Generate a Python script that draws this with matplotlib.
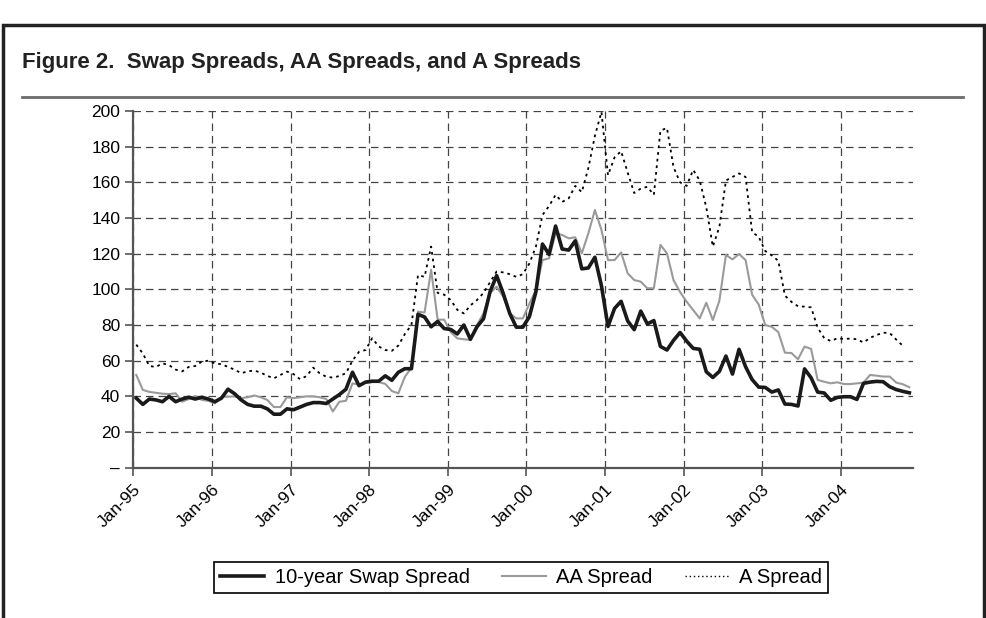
import numpy as np
import matplotlib
matplotlib.use("Agg")
import matplotlib.pyplot as plt
from matplotlib.patches import Rectangle
from matplotlib.lines import Line2D

# monthly data, Jan-95 .. Nov-04 (basis points)
swap_spread = [
    39, 35.5, 38.5, 38, 37, 40, 37, 38.5, 39.5, 38.5, 39.5, 38.5,          # 1995
    37, 39, 44, 41.5, 38, 35.5, 34.5, 34.5, 33, 30, 30, 33,                # 1996
    32.5, 34, 35.5, 36.5, 36.5, 36, 38.5, 41, 44, 53.5, 46, 48,            # 1997
    48.5, 48.5, 51.5, 49, 53.5, 55.5, 55.5, 86, 84.5, 79, 82, 78,          # 1998
    77.5, 75, 80, 72, 79, 83.5, 98.7, 107.7, 97.8, 86.5, 78.8, 78.8,       # 1999
    84.7, 98.7, 125.4, 119.6, 135.5, 122.6, 122, 127.2, 111.5, 112, 118, 102,  # 2000
    79.2, 89.3, 93.3, 82.3, 77.4, 87.8, 80.6, 82.5, 68, 66, 71.4, 75.8,    # 2001
    71, 66.9, 66.4, 53.8, 50.6, 54, 62.6, 52.5, 66.4, 56.6, 49.4, 45.2,    # 2002
    45, 42.4, 43.6, 35.7, 35.5, 34.6, 55.4, 50.4, 42.4, 41.9, 37.8, 39.4,  # 2003
    39.8, 39.8, 38.3, 47.3, 48, 48.4, 48.2, 45.4, 43.8, 42.8, 42,          # 2004
]
aa_spread = [
    52, 43.6, 42.5, 42, 41.5, 41.3, 41.7, 37, 38.5, 40.2, 38, 37.5,
    36.1, 39.8, 39.8, 40, 39, 39.5, 40.5, 39.5, 38, 34, 34, 39.5,
    39, 39.5, 40, 40, 39.5, 38.5, 31.5, 37, 37.5, 47.3, 46.5, 47.5,
    48, 48, 47, 43, 41.7, 51, 56, 87.5, 87, 111, 83, 83,
    76, 72.5, 72, 71.6, 80, 86.5, 98, 101.5, 95.9, 86.5, 83.7, 83.7,
    92, 99.6, 116.4, 117.4, 131.4, 130.5, 128.6, 129.2, 120.2, 131.4, 144.5, 133.3,
    116.4, 116.4, 120.7, 109, 105.2, 104.3, 100.6, 100.6, 124.9, 120.2, 105.2, 98.5,
    93.1, 88.4, 83.7, 92.5, 82.8, 93.6, 119.3, 116.8, 119.8, 116.4, 97, 91.5,
    80, 79, 76, 64.5, 64.3, 60.8, 67.9, 66.6, 49.2, 48.2, 47.3, 47.9,
    46.9, 46.9, 47.3, 47.7, 52, 51.6, 51.1, 51.1, 47.7, 46.8, 45.1,
]
a_spread = [
    69, 64, 57, 56.5, 58.5, 57.5, 55, 54, 56.5, 57, 59.5, 60,
    58.5, 58, 56.5, 55, 53, 54, 54.5, 53.3, 51.5, 50.1, 52, 53.9,
    52.5, 49.6, 51.4, 56.1, 52.9, 51, 50.5, 51.4, 53, 60, 65, 66,
    72.6, 68, 66, 65.5, 68.5, 75, 80, 108, 107, 124, 98, 97,
    94, 88.5, 86.5, 91, 94, 98, 104, 110, 109.5, 108.5, 107, 108.5,
    114.5, 124, 141.7, 146.7, 153, 149, 151, 158, 154.5, 168, 186, 199.5,
    164, 174, 177.5, 165.5, 154, 156.5, 157.5, 153, 189, 190.5, 168.5, 160,
    158, 167, 161, 146, 124, 135, 161, 163, 165, 163, 132, 129.5,
    121.5, 119, 116, 96.5, 93, 90.5, 90.3, 89.9, 78.5, 72.7, 71, 72.6,
    72.2, 72.4, 72, 70.2, 72.8, 74.4, 75.7, 75.5, 71.8, 68.4, np.nan,
]
year_labels = ['Jan-95', 'Jan-96', 'Jan-97', 'Jan-98', 'Jan-99',
               'Jan-00', 'Jan-01', 'Jan-02', 'Jan-03', 'Jan-04']
y_ticks = [0, 20, 40, 60, 80, 100, 120, 140, 160, 180, 200]

months = np.arange(len(swap_spread)) + 0.45

plt.rcParams['font.family'] = ['Liberation Sans', 'DejaVu Sans']

fig = plt.figure(figsize=(9.87, 6.18), dpi=100)
ax = fig.add_axes([0.1351, 0.2432, 0.925 - 0.1351, 0.8204 - 0.2432])

ax.plot(months, a_spread, color='black', lw=1.3, ls=(0, (1.5, 2.2)), label='A Spread')
ax.plot(months, aa_spread, color='#9a9a9a', lw=1.5, label='AA Spread')
ax.plot(months, swap_spread, color='#1a1a1a', lw=2.6, label='10-year Swap Spread')

ax.set_xlim(0, 119)
ax.set_ylim(0, 200)
ax.set_xticks(np.arange(0, 120, 12))
ax.set_xticklabels(year_labels, rotation=45, ha='right', rotation_mode='anchor')
ax.set_yticks(y_ticks)
ax.set_yticklabels(['\u2013'] + [str(v) for v in y_ticks[1:]])
ax.tick_params(axis='both', labelsize=12.5, direction='out', length=6,
               width=1.2, color='#555555', colors='black')
ax.tick_params(axis='x', pad=4)

ax.grid(True, color='#444444', ls=(0, (6, 4)), lw=0.9)
for s in ['top', 'right']:
    ax.spines[s].set_visible(False)
for s in ['left', 'bottom']:
    ax.spines[s].set_color('#555555')
    ax.spines[s].set_linewidth(1.6)

handles = [
    Line2D([], [], color='#1a1a1a', lw=2.6),
    Line2D([], [], color='#9a9a9a', lw=1.5),
    Line2D([], [], color='black', lw=1.0, ls=(0, (1, 2))),
]
leg = fig.legend(handles, ['10-year Swap Spread', 'AA Spread', 'A Spread'],
                 loc='center', bbox_to_anchor=(0.528, 0.066), ncol=3,
                 fontsize=14.5, frameon=True, fancybox=False, edgecolor='black',
                 framealpha=1, handlelength=2.2, columnspacing=1.6,
                 handletextpad=0.5, borderpad=0.3)
leg.get_frame().set_linewidth(1.2)

# outer frame, title and rule
fig.add_artist(Rectangle((0.003, -0.05), 0.994, 1.01, transform=fig.transFigure,
                         fill=False, edgecolor='#222222', lw=2.5))
fig.text(0.0223, 0.89, 'Figure 2.  Swap Spreads, AA Spreads, and A Spreads',
         fontsize=16, fontweight='bold', color='#222222', va='baseline')
fig.add_artist(Line2D([0.0223, 0.9757], [0.843, 0.843], transform=fig.transFigure,
                      color='#6b6b6b', lw=2))

fig.savefig('out.png', dpi=100)
